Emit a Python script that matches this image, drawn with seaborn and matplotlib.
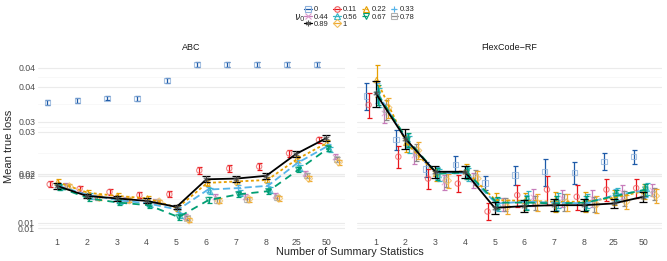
import numpy as np
import pandas as pd
import matplotlib
matplotlib.use("Agg")
import matplotlib.pyplot as plt
import seaborn as sns
from matplotlib.lines import Line2D
from matplotlib.ticker import FixedLocator, FixedFormatter, NullFormatter

stats = ["1", "2", "3", "4", "5", "6", "7", "8", "25", "50"]
levels = ["0", "0.11", "0.22", "0.33", "0.44", "0.56", "0.67", "0.78", "0.89", "1"]

# mean true loss, ABC panel (one list per v0)
abc_0 = [0.0323, 0.0329, 0.0335, 0.0334, 0.0387, 0.0443, 0.0443, 0.0443, 0.0443, 0.0443]
abc_011 = [0.0165, 0.0159, 0.0155, 0.0151, 0.0152, 0.0185, 0.0188, 0.0191, 0.0213, 0.0238]
abc_022 = [0.0168, 0.0154, 0.0150, 0.0147, 0.0136, 0.0167, 0.0169, 0.0171, 0.0203, 0.0232]
abc_033 = [0.0163, 0.0151, 0.0145, 0.0141, 0.0134, 0.0158, 0.0160, 0.0163, 0.0197, 0.0226]
abc_044 = [0.0163, 0.0149, 0.0146, 0.0144, 0.0127, 0.0149, 0.0149, 0.0151, 0.0181, 0.0207]
abc_056 = [0.0162, 0.0150, 0.0144, 0.0140, 0.0128, 0.0156, 0.0154, 0.0158, 0.0189, 0.0220]
abc_067 = [0.0161, 0.0147, 0.0142, 0.0139, 0.0126, 0.0145, 0.0152, 0.0156, 0.0186, 0.0222]
abc_078 = [0.0162, 0.0148, 0.0145, 0.0143, 0.0125, 0.0145, 0.0146, 0.0148, 0.0177, 0.0203]
abc_089 = [0.0163, 0.0150, 0.0147, 0.0144, 0.0137, 0.0172, 0.0173, 0.0177, 0.0212, 0.0241]
abc_1 = [0.0162, 0.0148, 0.0145, 0.0143, 0.0123, 0.0144, 0.0146, 0.0147, 0.0173, 0.0198]

# relative half-width of the error bars, ABC
abc_e_0 = [0.020, 0.018, 0.018, 0.018, 0.020, 0.020, 0.020, 0.020, 0.020, 0.020]
abc_e_011 = [0.025, 0.022, 0.022, 0.022, 0.025, 0.028, 0.028, 0.028, 0.028, 0.025]
abc_e_022 = [0.025, 0.022, 0.022, 0.022, 0.022, 0.025, 0.025, 0.025, 0.025, 0.022]
abc_e_033 = [0.022, 0.020, 0.020, 0.020, 0.020, 0.022, 0.022, 0.022, 0.022, 0.020]
abc_e_044 = [0.020, 0.018, 0.018, 0.018, 0.020, 0.020, 0.020, 0.020, 0.020, 0.020]
abc_e_056 = [0.025, 0.022, 0.022, 0.022, 0.022, 0.025, 0.025, 0.025, 0.025, 0.022]
abc_e_067 = [0.022, 0.020, 0.020, 0.020, 0.020, 0.022, 0.022, 0.022, 0.022, 0.020]
abc_e_078 = [0.018, 0.018, 0.018, 0.018, 0.018, 0.020, 0.020, 0.020, 0.020, 0.020]
abc_e_089 = [0.022, 0.020, 0.020, 0.020, 0.020, 0.025, 0.025, 0.025, 0.025, 0.025]
abc_e_1 = [0.018, 0.018, 0.018, 0.018, 0.018, 0.020, 0.020, 0.020, 0.020, 0.020]

# mean true loss, FlexCode-RF panel
fc_0 = [0.0341, 0.0238, 0.0187, 0.0194, 0.0167, 0.0178, 0.0183, 0.0182, 0.0199, 0.0207]
fc_011 = [0.0317, 0.0207, 0.0173, 0.0166, 0.0132, 0.0151, 0.0158, 0.0149, 0.0158, 0.0160]
fc_022 = [0.0389, 0.0232, 0.0180, 0.0184, 0.0145, 0.0144, 0.0143, 0.0143, 0.0148, 0.0156]
fc_033 = [0.0350, 0.0236, 0.0181, 0.0181, 0.0141, 0.0143, 0.0142, 0.0141, 0.0151, 0.0157]
fc_044 = [0.0296, 0.0210, 0.0168, 0.0171, 0.0140, 0.0149, 0.0147, 0.0147, 0.0155, 0.0158]
fc_056 = [0.0338, 0.0230, 0.0178, 0.0179, 0.0140, 0.0147, 0.0145, 0.0144, 0.0153, 0.0159]
fc_067 = [0.0345, 0.0238, 0.0180, 0.0182, 0.0142, 0.0142, 0.0141, 0.0142, 0.0150, 0.0158]
fc_078 = [0.0305, 0.0215, 0.0172, 0.0175, 0.0140, 0.0142, 0.0143, 0.0140, 0.0147, 0.0153]
fc_089 = [0.0349, 0.0240, 0.0183, 0.0183, 0.0136, 0.0138, 0.0139, 0.0139, 0.0141, 0.0149]
fc_1 = [0.0310, 0.0218, 0.0170, 0.0173, 0.0137, 0.0142, 0.0142, 0.0140, 0.0143, 0.0150]

fc_e_0 = [0.11, 0.08, 0.06, 0.07, 0.06, 0.08, 0.11, 0.09, 0.07, 0.06]
fc_e_011 = [0.10, 0.09, 0.08, 0.07, 0.07, 0.09, 0.12, 0.10, 0.09, 0.08]
fc_e_022 = [0.13, 0.07, 0.06, 0.06, 0.06, 0.07, 0.08, 0.08, 0.06, 0.06]
fc_e_033 = [0.08, 0.06, 0.05, 0.05, 0.05, 0.06, 0.06, 0.06, 0.05, 0.05]
fc_e_044 = [0.08, 0.07, 0.06, 0.06, 0.05, 0.07, 0.07, 0.07, 0.06, 0.05]
fc_e_056 = [0.08, 0.07, 0.05, 0.05, 0.05, 0.06, 0.06, 0.06, 0.05, 0.05]
fc_e_067 = [0.08, 0.06, 0.05, 0.05, 0.05, 0.06, 0.06, 0.06, 0.05, 0.05]
fc_e_078 = [0.08, 0.07, 0.06, 0.06, 0.05, 0.06, 0.07, 0.06, 0.06, 0.05]
fc_e_089 = [0.11, 0.08, 0.05, 0.05, 0.05, 0.05, 0.05, 0.05, 0.04, 0.04]
fc_e_1 = [0.08, 0.07, 0.06, 0.06, 0.06, 0.07, 0.07, 0.07, 0.06, 0.06]

# y axis breaks (labels rounded to 2 decimals, as in the original)
ytick_vals = [0.0115, 0.01204, 0.01768, 0.01797, 0.02539, 0.02764, 0.03675, 0.04308]

abc_means = [abc_0, abc_011, abc_022, abc_033, abc_044, abc_056, abc_067, abc_078, abc_089, abc_1]
abc_errs = [abc_e_0, abc_e_011, abc_e_022, abc_e_033, abc_e_044, abc_e_056, abc_e_067, abc_e_078, abc_e_089, abc_e_1]
fc_means = [fc_0, fc_011, fc_022, fc_033, fc_044, fc_056, fc_067, fc_078, fc_089, fc_1]
fc_errs = [fc_e_0, fc_e_011, fc_e_022, fc_e_033, fc_e_044, fc_e_056, fc_e_067, fc_e_078, fc_e_089, fc_e_1]

# style per level: errorbar/line colour, marker colour, marker, dodge offset
styles = {
    "0":    ("#1D5AA8", "#8DB0DA", "s", -0.32),
    "0.11": ("#E8161B", "#EE5A5C", "o", -0.24),
    "0.22": ("#E69F00", "#E69F00", "^", 0.03),
    "0.33": ("#56B4E9", "#56B4E9", "+", 0.05),
    "0.44": ("#C77CBA", "#D99BCB", "x", 0.28),
    "0.56": ("#35B5C5", "#35B5C5", "^", 0.12),
    "0.67": ("#009E73", "#009E73", "v", 0.07),
    "0.78": ("#8C8C8C", "#B0B0B0", "s", 0.35),
    "0.89": ("#000000", "#555555", (6, 2, 0), 0.0),
    "1":    ("#EFA92F", "#F2BE5E", "D", 0.42),
}
line_levels = ["0.22", "0.33", "0.67", "0.89"]
dash_map = {"0.22": (1.6, 1.4), "0.33": (4, 2), "0.67": (4, 3), "0.89": ""}

rows = []
for panel, means, errs in [("ABC", abc_means, abc_errs), ("FlexCode-RF", fc_means, fc_errs)]:
    for lev, m, e in zip(levels, means, errs):
        for k in range(len(stats)):
            rows.append(dict(panel=panel, level=lev, k=k, xpos=k + styles[lev][3],
                             loss=m[k], err=e[k]))
df = pd.DataFrame(rows)

sns.set_theme(style="white")
plt.rcParams["font.family"] = ["Liberation Sans", "DejaVu Sans"]

fig = plt.figure(figsize=(6.67, 2.61), dpi=100)
W, H = 667, 261
ax1 = fig.add_axes([38 / W, 1 - 235 / H, 307 / W, 178 / H])
ax2 = fig.add_axes([357 / W, 1 - 235 / H, 305 / W, 178 / H])

minor_vals = [np.sqrt(a * b) for a, b in zip(ytick_vals[:-1], ytick_vals[1:])]
filled = {"s", "o", "^", "v", "D"}


def draw_panel(ax, sub, title):
    ax.set_yscale("log")
    for lev in levels:
        d = sub[sub.level == lev]
        ecol, mcol, mk, _ = styles[lev]
        z = 6 if lev == "0.89" else 3
        ax.errorbar(d.xpos, d.loss, yerr=d.loss * d.err, fmt="none", ecolor=ecol,
                    elinewidth=0.9, capsize=3 if lev == "0.89" else 1.8, capthick=0.9, zorder=z)
        if mk in filled:
            ax.scatter(d.xpos, d.loss, marker=mk, s=15, facecolors="none", edgecolors=mcol,
                       linewidths=0.8, alpha=0.75, zorder=z)
        else:
            ax.scatter(d.xpos, d.loss, marker=mk, s=15, color=mcol, linewidths=0.8,
                       alpha=0.75, zorder=z)
    line_df = sub[sub.level.isin(line_levels)]
    sns.lineplot(data=line_df, x="xpos", y="loss", hue="level", hue_order=line_levels,
                 palette={l: styles[l][0] for l in line_levels}, style="level",
                 style_order=line_levels, dashes=dash_map, linewidth=1.3,
                 errorbar=None, legend=False, ax=ax, zorder=4)
    ax.set_ylim(0.01088, 0.0470)
    ax.set_xlim(-0.63, 9.63)
    ax.yaxis.set_major_locator(FixedLocator(ytick_vals))
    ax.yaxis.set_major_formatter(FixedFormatter([f"{v:.2f}" for v in ytick_vals]))
    ax.yaxis.set_minor_locator(FixedLocator(minor_vals))
    ax.yaxis.set_minor_formatter(NullFormatter())
    ax.grid(axis="y", which="major", color="#EBEBEB", lw=0.8)
    ax.grid(axis="y", which="minor", color="#F5F5F5", lw=0.5)
    ax.grid(axis="x", visible=False)
    ax.set_axisbelow(True)
    ax.set_xticks(range(len(stats)), stats)
    for s in ax.spines.values():
        s.set_visible(False)
    ax.tick_params(axis="both", which="both", length=0, labelsize=6.3,
                   labelcolor="#4D4D4D", pad=2)
    ax.set_xlabel("")
    ax.set_ylabel("")
    ax.set_title(title, fontsize=6.5, pad=5, color="#1A1A1A")


draw_panel(ax1, df[df.panel == "ABC"], "ABC")
draw_panel(ax2, df[df.panel == "FlexCode-RF"], "FlexCode\u2212RF")
ax2.tick_params(labelleft=False)

ax1.set_ylabel("Mean true loss", fontsize=8, labelpad=3)
fig.text(350 / W, 1 - 252 / H, "Number of Summary Statistics", fontsize=7.8,
         ha="center", va="center")

# legend, filled row by row as in the original
handles = []
for lev in levels:
    ecol, mcol, mk, _ = styles[lev]
    dash = dash_map.get(lev, "")
    h = Line2D([], [], color=ecol, lw=0.9, marker=mk, markersize=4,
               markerfacecolor="none", markeredgecolor=mcol, markeredgewidth=0.8)
    if dash:
        h.set_dashes(dash)
    handles.append(h)
order = [0, 4, 8, 1, 5, 9, 2, 6, 3, 7]
fig.legend([handles[i] for i in order], [levels[i] for i in order], ncol=4,
           loc="upper left", bbox_to_anchor=(304 / W, 1 - 6 / H), frameon=False,
           fontsize=5.5, handlelength=1.0, handletextpad=0.25, columnspacing=0.6,
           labelspacing=0.0, borderpad=0, borderaxespad=0)
fig.text(300 / W, 1 - 18 / H, r"$\nu_0$", fontsize=7, ha="center", va="center")

fig.savefig("out.png", dpi=100)
